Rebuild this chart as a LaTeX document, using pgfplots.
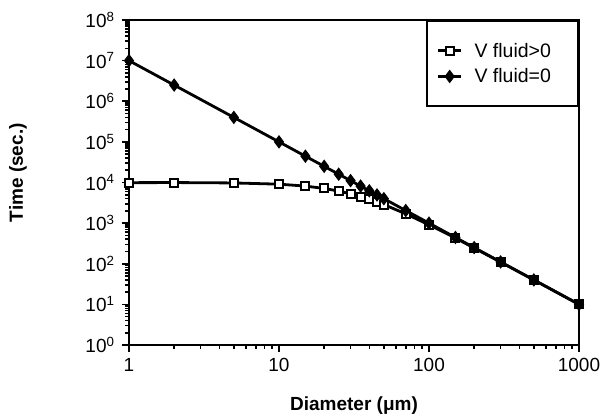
\documentclass[border=0pt]{standalone}
\usepackage{fontspec}
\setmainfont{Liberation Sans}
\usepackage{pgfplots}
\pgfplotsset{compat=1.18}

\begin{document}
\begin{tikzpicture}
\begin{axis}[
    name=main,
    xmode=log, ymode=log,
    scale only axis,
    width=450pt, height=325pt,
    xmin=1, xmax=1000, ymin=1, ymax=1e8,
    axis line style={line width=2pt},
    xtick={1,10,100,1000},
    xticklabels={1,10,100,1000},
    ytick={1,10,100,1000,1e4,1e5,1e6,1e7,1e8},
    yticklabels={10\textsuperscript{0},10\textsuperscript{1},10\textsuperscript{2},10\textsuperscript{3},10\textsuperscript{4},10\textsuperscript{5},10\textsuperscript{6},10\textsuperscript{7},10\textsuperscript{8}},
    xtick pos=left, ytick pos=left,
    tick align=outside,
    major tick length=7pt, minor tick length=4pt,
    every tick/.style={line width=1.6pt, black},
    tick label style={font=\fontsize{19}{21}\selectfont},
    xticklabel style={yshift=-3pt},
    yticklabel style={xshift=-4pt},
    xlabel={Diameter (μm)},
    ylabel={Time (sec.)},
    label style={font=\fontsize{19}{22}\selectfont\bfseries},
    xlabel style={at={(axis description cs:0.5,-0.185)}, anchor=center},
    ylabel style={at={(axis description cs:-0.247,0.53)}, anchor=center},
    legend style={at={(rel axis cs:1,1)}, anchor=north east, draw=black,
        line width=2pt, inner xsep=10pt, inner ysep=20pt, row sep=6pt,
        font=\fontsize{19.5}{22}\selectfont},
    legend cell align=left,
    legend image code/.code={\draw[mark repeat=2, mark phase=2]
        plot coordinates {(0pt,0pt) (11.5pt,0pt) (23pt,0pt)};},
]

% V fluid>0
\addplot[black, line width=2.8pt, mark=square*,
    mark options={fill=white, line width=2pt}, mark size=4pt]
coordinates {
    (1, 9900) (2, 9970) (5, 9750) (10, 9100) (15, 8160) (20, 7140)
    (25, 6150) (30, 5260) (35, 4490) (40, 3850) (45, 3310) (50, 2860)
    (70, 1695) (100, 909) (150, 430) (200, 244) (300, 110) (500, 40) (1000, 10)
};
\addlegendentry{\hspace{10pt}V fluid>0\rule{15pt}{0pt}}

% V fluid=0
\addplot[black, line width=2.8pt, mark=diamond*, mark size=6pt,
    mark options={fill=black, line width=1pt}]
coordinates {
    (1, 1e7) (2, 2.5e6) (5, 4e5) (10, 1e5) (15, 44400) (20, 25000)
    (25, 16000) (30, 11100) (35, 8160) (40, 6250) (45, 4940) (50, 4000)
    (70, 2040) (100, 1000) (150, 444) (200, 250) (300, 111) (500, 40) (1000, 10)
};
\addlegendentry{\hspace{10pt}V fluid=0}

\end{axis}
\pgfresetboundingbox
\path (main.south west) ++(-129pt,-72pt) coordinate (bl);
\path (main.north east) ++(23pt,20pt) coordinate (tr);
\path (bl) rectangle (tr);
\end{tikzpicture}
\end{document}
